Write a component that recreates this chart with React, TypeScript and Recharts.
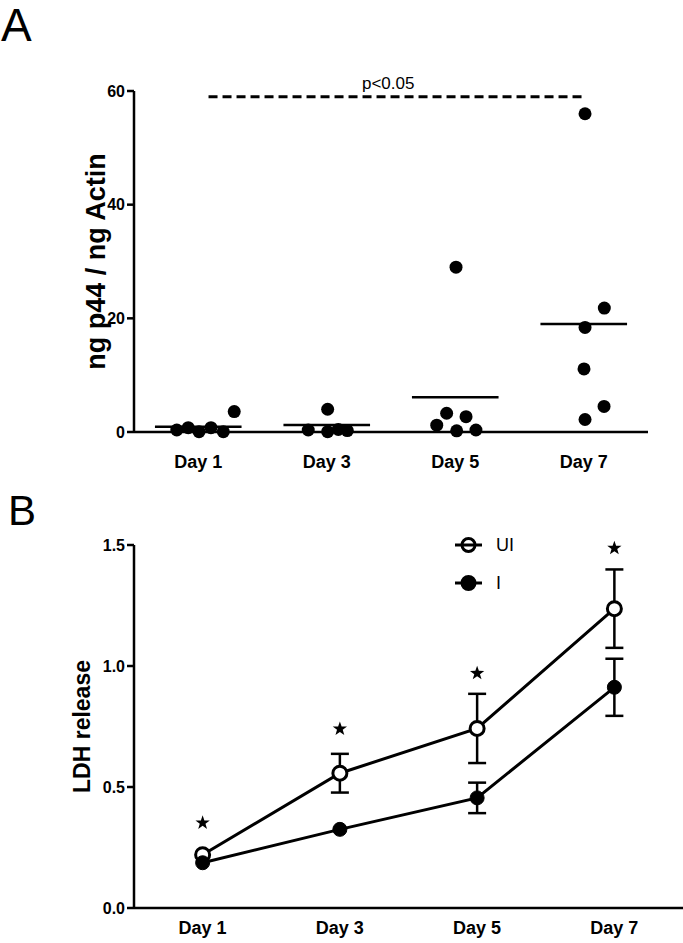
import React from 'react';
import {
  ScatterChart,
  Scatter,
  ComposedChart,
  Line,
  XAxis,
  YAxis,
  ReferenceLine,
  ErrorBar,
  Legend,
  Label,
} from 'recharts';

const FONT = '"Liberation Sans", Arial, Helvetica, sans-serif';

// ---------------- Panel A data ----------------
const dayLabels = ['Day 1', 'Day 3', 'Day 5', 'Day 7'];
const p44Day1 = [0.35, 0.76, 0.05, 0.76, 0.05, 3.6];
const p44Day3 = [0.35, 0.05, 0.45, 0.25, 4.0];
const p44Day5 = [1.2, 3.3, 0.2, 2.7, 0.35, 29.0];
const p44Day7 = [18.4, 21.8, 11.1, 4.5, 2.2, 56.0];
const p44Means = [0.93, 1.25, 6.1, 19.0];
// horizontal spread of the dots inside each day (fraction of a category width)
const jitterDay1 = [-0.167, -0.078, 0.006, 0.099, 0.195, 0.28];
const jitterDay3 = [-0.144, 0.007, 0.09, 0.16, 0.007];
const jitterDay5 = [-0.144, -0.067, 0.011, 0.084, 0.161, 0.006];
const jitterDay7 = [0.01, 0.16, 0.002, 0.158, 0.01, 0.01];
const pValueText = 'p<0.05';
const pValueLevel = 59;
const yTicksA = [0, 20, 40, 60];

// ---------------- Panel B data ----------------
const seriesOrder = ['ui', 'inf'];
const ldhUI = [0.22, 0.557, 0.742, 1.237];
const ldhUISem = [null, 0.08, 0.143, 0.162];
const ldhI = [0.187, 0.325, 0.455, 0.912];
const ldhISem = [null, null, 0.063, 0.118];
const starLevels = [0.352, 0.74, 0.97, 1.487];
const yTicksB = [0, 0.5, 1.0, 1.5];

// ---------------- derived tables ----------------
const groupsA = [p44Day1, p44Day3, p44Day5, p44Day7];
const jittersA = [jitterDay1, jitterDay3, jitterDay5, jitterDay7];
const pointsA = groupsA.flatMap((vals, d) =>
  vals.map((v, k) => ({ x: d + 0.5 + jittersA[d][k], y: v }))
);
const rowsB = dayLabels.map((day, i) => ({
  x: i,
  day,
  ui: ldhUI[i],
  uiErr: ldhUISem[i],
  inf: ldhI[i],
  infErr: ldhISem[i],
  star: starLevels[i],
}));

const axisLine = { stroke: '#000', strokeWidth: 2.5 };
const tickLine = { stroke: '#000', strokeWidth: 2.5 };
const xTickStyle = { fill: '#000', fontSize: 18, fontWeight: 700, fontFamily: FONT };
const yTickStyle = { fill: '#000', fontSize: 16, fontWeight: 700, fontFamily: FONT };

const DotA = (p: any) => <circle cx={p.cx} cy={p.cy} r={6.5} fill="#000" />;

const StarShape = (p: any) => {
  const R = 7.5;
  const r = 3.0;
  const pts: string[] = [];
  for (let k = 0; k < 10; k++) {
    const a = ((-90 + k * 36) * Math.PI) / 180;
    const rad = k % 2 === 0 ? R : r;
    pts.push(`${p.cx + rad * Math.cos(a)},${p.cy + rad * Math.sin(a)}`);
  }
  return <polygon points={pts.join(' ')} fill="#000" />;
};

const LegendB = (props: any) => {
  const items = (props.payload || [])
    .filter((e: any) => seriesOrder.includes(e.dataKey))
    .sort((a: any, b: any) => seriesOrder.indexOf(a.dataKey) - seriesOrder.indexOf(b.dataKey));
  return (
    <div style={{ fontFamily: FONT, fontSize: 18, color: '#000' }}>
      {items.map((e: any) => (
        <div key={e.dataKey} style={{ display: 'flex', alignItems: 'center', height: 38 }}>
          <svg width={30} height={20} style={{ display: 'block' }}>
            <line x1={1} y1={10} x2={28} y2={10} stroke="#000" strokeWidth={3} />
            <circle
              cx={14.5}
              cy={10}
              r={6.5}
              fill={e.dataKey === 'ui' ? 'none' : '#000'}
              stroke="#000"
              strokeWidth={3}
            />
          </svg>
          <span style={{ marginLeft: 12, lineHeight: '18px' }}>{e.value}</span>
        </div>
      ))}
    </div>
  );
};

const yLabel = (text: string, baseX: number, fontSize: number) => (props: any) => {
  const vb = props.viewBox || {};
  const cy = vb.y + vb.height / 2;
  return (
    <text
      x={baseX}
      y={cy}
      transform={`rotate(-90 ${baseX} ${cy})`}
      textAnchor="middle"
      fill="#000"
      fontFamily={FONT}
      fontWeight={700}
      fontSize={fontSize}
    >
      {text}
    </text>
  );
};

export default function App() {
  return (
    <div
      style={{
        position: 'absolute',
        left: 0,
        top: 0,
        width: 683,
        height: 943,
        background: '#fff',
        overflow: 'hidden',
      }}
    >
      <svg width={683} height={943} style={{ position: 'absolute', left: 0, top: 0 }}>
        <text x={1} y={41} fontFamily={FONT} fontSize={46} fill="#000">
          A
        </text>
        <text x={8} y={525} fontFamily={FONT} fontSize={42} fill="#000">
          B
        </text>
      </svg>

      <div style={{ position: 'absolute', left: 0, top: 0 }}>
        <ScatterChart width={683} height={480} margin={{ top: 91, right: 35, bottom: 0, left: 0 }}>
          <XAxis
            type="number"
            dataKey="x"
            domain={[0, 4]}
            ticks={[0.5, 1.5, 2.5, 3.5]}
            interval={0}
            tickFormatter={(v: number) => dayLabels[Math.round(v - 0.5)]}
            axisLine={axisLine}
            tickLine={false}
            tickMargin={17}
            height={48}
            tick={xTickStyle}
          />
          <YAxis
            type="number"
            dataKey="y"
            domain={[0, 60]}
            ticks={yTicksA}
            interval={0}
            width={134}
            axisLine={axisLine}
            tickLine={tickLine}
            tickSize={7}
            tickMargin={2}
            tick={yTickStyle}
          >
            <Label content={yLabel('ng p44 / ng Actin', 105, 27)} />
          </YAxis>
          {p44Means.map((m, i) => (
            <ReferenceLine
              key={`mean-${i}`}
              segment={[
                { x: i + 0.5 - 0.337, y: m },
                { x: i + 0.5 + 0.337, y: m },
              ]}
              stroke="#000"
              strokeWidth={2.5}
            />
          ))}
          <ReferenceLine
            segment={[
              { x: 0.58, y: pValueLevel },
              { x: 3.485, y: pValueLevel },
            ]}
            stroke="#000"
            strokeWidth={3}
            strokeDasharray="9 5"
            label={{
              content: (props: any) => {
                const vb = props.viewBox || {};
                return (
                  <text
                    x={vb.x + vb.width / 2 - 7}
                    y={vb.y - 8}
                    textAnchor="middle"
                    fontFamily={FONT}
                    fontSize={17}
                    fill="#000"
                  >
                    {pValueText}
                  </text>
                );
              },
            }}
          />
          <Scatter data={pointsA} shape={DotA} isAnimationActive={false} />
        </ScatterChart>
      </div>

      <div style={{ position: 'absolute', left: 0, top: 480 }}>
        <ComposedChart
          width={683}
          height={463}
          data={rowsB}
          margin={{ top: 65, right: 0, bottom: 0, left: 0 }}
        >
          <XAxis
            type="number"
            dataKey="x"
            domain={[-0.5, 3.5]}
            ticks={[0, 1, 2, 3]}
            interval={0}
            tickFormatter={(v: number) => dayLabels[Math.round(v)]}
            axisLine={axisLine}
            tickLine={false}
            tickMargin={7}
            height={35}
            tick={xTickStyle}
          />
          <YAxis
            type="number"
            domain={[0, 1.5]}
            ticks={yTicksB}
            interval={0}
            width={134}
            tickFormatter={(v: number) => v.toFixed(1)}
            axisLine={axisLine}
            tickLine={tickLine}
            tickSize={7}
            tickMargin={2}
            tick={yTickStyle}
          >
            <Label content={yLabel('LDH release', 90, 23)} />
          </YAxis>
          <Legend
            layout="vertical"
            align="center"
            verticalAlign="middle"
            content={LegendB}
            wrapperStyle={{ left: 454, top: 46, width: 120 }}
          />
          <Line
            dataKey="ui"
            name="UI"
            stroke="#000"
            strokeWidth={3}
            dot={{ r: 7, fill: '#fff', stroke: '#000', strokeWidth: 3 }}
            activeDot={false}
            isAnimationActive={false}
          >
            <ErrorBar dataKey="uiErr" direction="y" width={9} stroke="#000" strokeWidth={2.5} />
          </Line>
          <Line
            dataKey="inf"
            name="I"
            stroke="#000"
            strokeWidth={3}
            dot={{ r: 7, fill: '#000', stroke: '#000', strokeWidth: 1 }}
            activeDot={false}
            isAnimationActive={false}
          >
            <ErrorBar dataKey="infErr" direction="y" width={9} stroke="#000" strokeWidth={2.5} />
          </Line>
          <Scatter
            dataKey="star"
            name="star"
            shape={StarShape}
            legendType="none"
            isAnimationActive={false}
          />
        </ComposedChart>
      </div>
    </div>
  );
}
